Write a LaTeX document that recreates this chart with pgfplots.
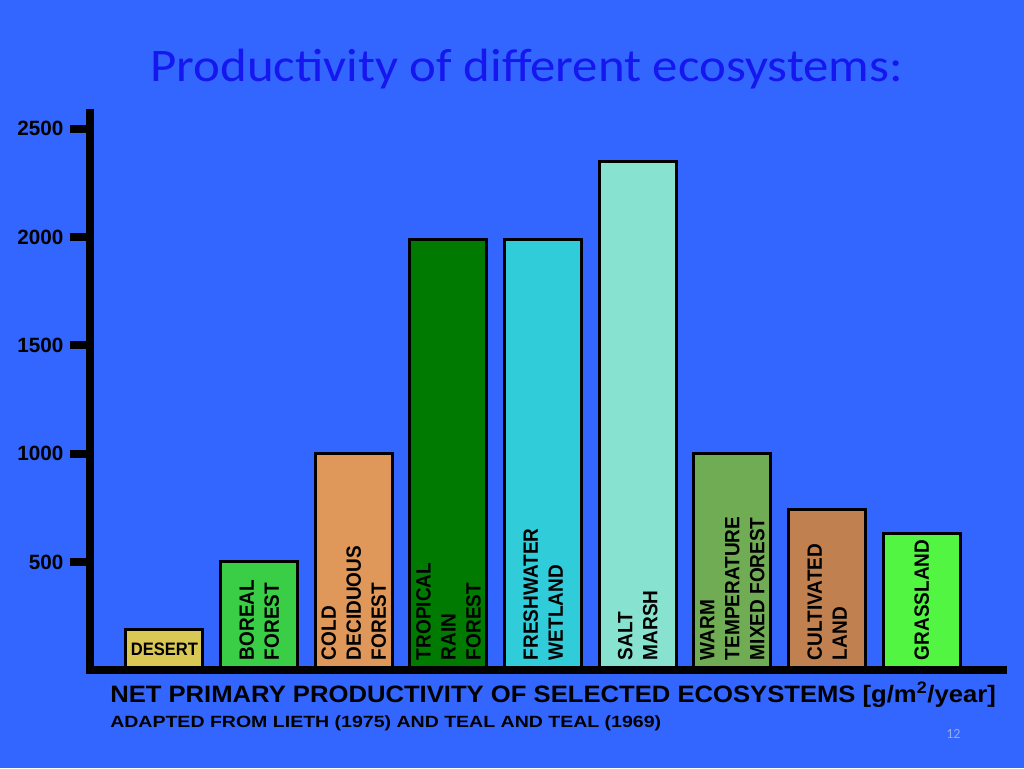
\documentclass[border=0pt]{standalone}
\usepackage{fontspec}
\setmainfont{Liberation Sans}
\newfontfamily\narrow[FakeStretch=0.92]{Liberation Sans}
\newfontfamily\calibri{Carlito}
\usepackage{pgfplots}
\pgfplotsset{compat=1.18}
\definecolor{bgblue}{RGB}{51,102,255}
\definecolor{titleblue}{RGB}{22,22,238}
\definecolor{pagenum}{RGB}{150,170,235}
\definecolor{cdesert}{RGB}{218,200,84}
\definecolor{cboreal}{RGB}{58,205,70}
\definecolor{ccold}{RGB}{224,152,90}
\definecolor{ctrop}{RGB}{0,122,0}
\definecolor{cfresh}{RGB}{48,204,218}
\definecolor{csalt}{RGB}{136,226,208}
\definecolor{cwarm}{RGB}{112,172,84}
\definecolor{ccult}{RGB}{192,128,80}
\definecolor{cgrass}{RGB}{82,245,66}
\tikzset{lbl/.style={rotate=90, anchor=west, align=left, inner sep=0pt,
      font=\narrow\bfseries\fontsize{15.5}{18.75}\selectfont}}
\begin{document}
\begin{tikzpicture}
  % 1 px of the slide = 0.75pt
  \fill[bgblue] (0,0) rectangle (768pt,576pt);
  \useasboundingbox (0,0) rectangle (768pt,576pt);
  \node[anchor=base, inner sep=0pt, text=titleblue,
        font=\calibri\fontsize{35}{40}\selectfont] at (395pt,514.5pt)
        {\scalebox{1.09}[1]{Productivity of different ecosystems:}};
  \begin{axis}[
    at={(67.5pt,73.3pt)}, anchor=south west,
    scale only axis,
    width=684.75pt, height=418pt,
    xmin=-0.787, xmax=8.859,
    ymin=0, ymax=2573,
    axis x line=bottom, axis y line=left,
    axis line style={-, line width=6pt, line cap=rect, black},
    axis on top,
    xtick=\empty,
    ytick={500,1000,1500,2000,2500},
    tick align=outside,
    major tick length=15pt,
    tick style={line width=6pt, black},
    yticklabel style={font=\fontsize{15.5}{16}\selectfont\bfseries, xshift=-1.5pt},
    /pgf/number format/assume math mode=true,
    /pgf/number format/set thousands separator={},
    every axis plot/.append style={ybar, bar width=57.75pt, bar shift=0pt,
      draw=black, line width=2.25pt},
  ]
    \addplot[fill=cdesert] coordinates {(0,190)};
    \addplot[fill=cboreal] coordinates {(1,500)};
    \addplot[fill=ccold]   coordinates {(2,1000)};
    \addplot[fill=ctrop]   coordinates {(3,1990)};
    \addplot[fill=cfresh]  coordinates {(4,1990)};
    \addplot[fill=csalt]   coordinates {(5,2350)};
    \addplot[fill=cwarm]   coordinates {(6,1000)};
    \addplot[fill=ccult]   coordinates {(7,740)};
    \addplot[fill=cgrass]  coordinates {(8,630)};

    \node[anchor=base, inner sep=0pt,
          font=\narrow\bfseries\fontsize{13.5}{15}\selectfont]
          at (axis cs:0,70) {DESERT};
    \node[lbl] at (axis cs:1,46) {BOREAL\\FOREST};
    \node[lbl] at (axis cs:2,46) {COLD\\DECIDUOUS\\FOREST};
    \node[lbl] at (axis cs:3,46) {TROPICAL\\RAIN\\FOREST};
    \node[lbl] at (axis cs:4,46) {FRESHWATER\\WETLAND};
    \node[lbl] at (axis cs:5,46) {SALT\\MARSH};
    \node[lbl] at (axis cs:6,46) {WARM\\TEMPERATURE\\MIXED FOREST};
    \node[lbl] at (axis cs:7,46) {CULTIVATED\\LAND};
    \node[lbl] at (axis cs:8,46) {GRASSLAND};
  \end{axis}
  \node[anchor=base west, inner sep=0pt,
        font=\bfseries\fontsize{17.8}{19}\selectfont] at (82.5pt,49.5pt)
        {\scalebox{1.08}[1]{NET PRIMARY PRODUCTIVITY OF SELECTED ECOSYSTEMS [g/m\textsuperscript{2}/year]}};
  \node[anchor=base west, inner sep=0pt,
        font=\bfseries\fontsize{12.2}{14}\selectfont] at (82.5pt,30.5pt)
        {\scalebox{1.2}[1]{ADAPTED FROM LIETH (1975) AND TEAL AND TEAL (1969)}};
  \node[anchor=base, inner sep=0pt, text=pagenum,
        font=\calibri\fontsize{10.5}{12}\selectfont] at (715pt,22.5pt) {12};
\end{tikzpicture}
\end{document}
